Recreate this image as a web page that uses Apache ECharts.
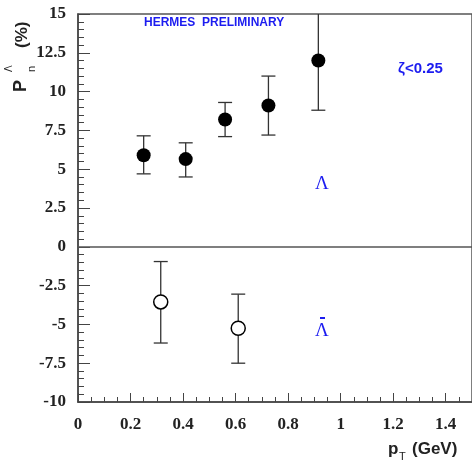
<!DOCTYPE html>
<html lang="en">
<head>
<meta charset="UTF-8">
<title>HERMES Lambda polarization</title>
<style>html,body{margin:0;padding:0;background:#fff}</style>
</head>
<body>
<div id="container" style="width:472px;height:468px"></div>
<script src="https://cdn.jsdelivr.net/npm/echarts@6/dist/echarts.min.js"></script>
<script>
// Lambda (filled points)
var lamPt = [0.25, 0.41, 0.56, 0.725, 0.915];
var lamVal = [5.9, 5.65, 8.2, 9.1, 12.0];
var lamLo = [4.7, 4.5, 7.1, 7.2, 8.8];
var lamHi = [7.15, 6.7, 9.3, 11.0, 15.5];
// anti-Lambda (open points)
var alamPt = [0.315, 0.61];
var alamVal = [-3.55, -5.25];
var alamLo = [-6.2, -7.5];
var alamHi = [-0.95, -3.05];

var xTicks = [0, 0.2, 0.4, 0.6, 0.8, 1, 1.2, 1.4];
var yTicks = [-10, -7.5, -5, -2.5, 0, 2.5, 5, 7.5, 10, 12.5, 15];

function pts(xs, ys) {
    return xs.map(function (x, i) { return [x, ys[i]]; });
}
function bars(xs, lo, hi) {
    return xs.map(function (x, i) { return [x, lo[i], hi[i]]; });
}

function errItem(params, api) {
    var x = api.value(0);
    var lo = api.coord([x, api.value(1)]);
    var hi = api.coord([x, api.value(2)]);
    var w = 7;
    var st = { stroke: '#333', lineWidth: 1.3 };
    return {
        type: 'group',
        children: [
            { type: 'line', shape: { x1: lo[0], y1: lo[1], x2: hi[0], y2: hi[1] }, style: st },
            { type: 'line', shape: { x1: lo[0] - w, y1: lo[1], x2: lo[0] + w, y2: lo[1] }, style: st },
            { type: 'line', shape: { x1: hi[0] - w, y1: hi[1], x2: hi[0] + w, y2: hi[1] }, style: st }
        ]
    };
}

var chart = echarts.init(document.getElementById('container'));
var tickFont = { fontFamily: 'Liberation Serif', fontWeight: 'bold', fontSize: 17, color: '#222' };
var blue = '#1c1cf0';

chart.setOption({
    backgroundColor: '#fff',
    animation: false,
    grid: { left: 78, right: 0, top: 14, bottom: 66, show: true, borderColor: '#555', borderWidth: 1.5 },
    xAxis: {
        type: 'value', min: 0, max: 1.5, interval: 0.2,
        axisLine: { onZero: false, lineStyle: { color: '#444', width: 1.5 } },
        axisTick: { inside: true, length: 9, lineStyle: { color: '#444' } },
        minorTick: { show: true, splitNumber: 4, length: 5, lineStyle: { color: '#444' } },
        splitLine: { show: false },
        axisLabel: Object.assign({ margin: 14, showMaxLabel: false,
            formatter: function (v) { return xTicks.indexOf(+v.toFixed(2)) >= 0 ? String(+v.toFixed(2)) : ''; } }, tickFont)
    },
    yAxis: {
        type: 'value', min: -10, max: 15, interval: 2.5,
        axisLine: { lineStyle: { color: '#444', width: 1.5 } },
        axisTick: { inside: true, length: 12, lineStyle: { color: '#444' } },
        minorTick: { show: true, splitNumber: 5, length: 6, lineStyle: { color: '#444' } },
        splitLine: { show: false },
        axisLabel: Object.assign({ margin: 12,
            formatter: function (v) { return yTicks.indexOf(v) >= 0 ? String(v) : ''; } }, tickFont)
    },
    series: [
        {
            type: 'custom', renderItem: errItem, data: bars(lamPt, lamLo, lamHi), clip: true, z: 2
        },
        {
            type: 'custom', renderItem: errItem, data: bars(alamPt, alamLo, alamHi), clip: true, z: 2
        },
        {
            type: 'scatter', data: pts(lamPt, lamVal), symbol: 'circle', symbolSize: 14,
            itemStyle: { color: '#000', opacity: 1 }, z: 3,
            markLine: {
                silent: true, symbol: 'none', label: { show: false },
                lineStyle: { color: '#555', width: 1.5, type: 'solid' },
                data: [{ yAxis: 0 }]
            }
        },
        {
            type: 'scatter', data: pts(alamPt, alamVal), symbol: 'circle', symbolSize: 14,
            itemStyle: { color: '#fff', borderColor: '#000', borderWidth: 1.5, opacity: 1 }, z: 3
        }
    ],
    graphic: [
        { type: 'text', left: 144, top: 17, style: { text: 'HERMES  PRELIMINARY', fill: blue, font: 'bold 12px "Liberation Sans"' } },
        { type: 'text', left: 398, top: 61, style: { text: 'ζ<0.25', fill: blue, font: 'bold 15px "Liberation Sans"' } },
        { type: 'text', left: 315, top: 175, style: { text: 'Λ', fill: blue, font: '19px "Liberation Serif"' } },
        { type: 'text', left: 315, top: 322, style: { text: 'Λ', fill: blue, font: '19px "Liberation Serif"' } },
        { type: 'rect', shape: { x: 320, y: 317, width: 5, height: 2 }, style: { fill: blue } },
        // y-axis title, rotated
        { type: 'text', x: 12, y: 92, rotation: Math.PI / 2, style: { text: 'P', fill: '#222', font: 'bold 18px "Liberation Sans"' } },
        { type: 'text', x: 4, y: 72, rotation: Math.PI / 2, style: { text: 'Λ', fill: '#222', font: '10px "Liberation Sans"' } },
        { type: 'text', x: 26, y: 72, rotation: Math.PI / 2, style: { text: 'n', fill: '#222', font: '11px "Liberation Sans"' } },
        { type: 'text', x: 14, y: 48, rotation: Math.PI / 2, style: { text: '(%)', fill: '#222', font: 'bold 17px "Liberation Sans"' } },
        // x-axis title
        { type: 'text', left: 388, top: 441, style: { text: 'p', fill: '#222', font: 'bold 17px "Liberation Sans"' } },
        { type: 'text', left: 399, top: 451, style: { text: 'T', fill: '#222', font: '11px "Liberation Sans"' } },
        { type: 'text', left: 412, top: 441, style: { text: '(GeV)', fill: '#222', font: 'bold 17px "Liberation Sans"' } }
    ]
});
</script>
</body>
</html>
